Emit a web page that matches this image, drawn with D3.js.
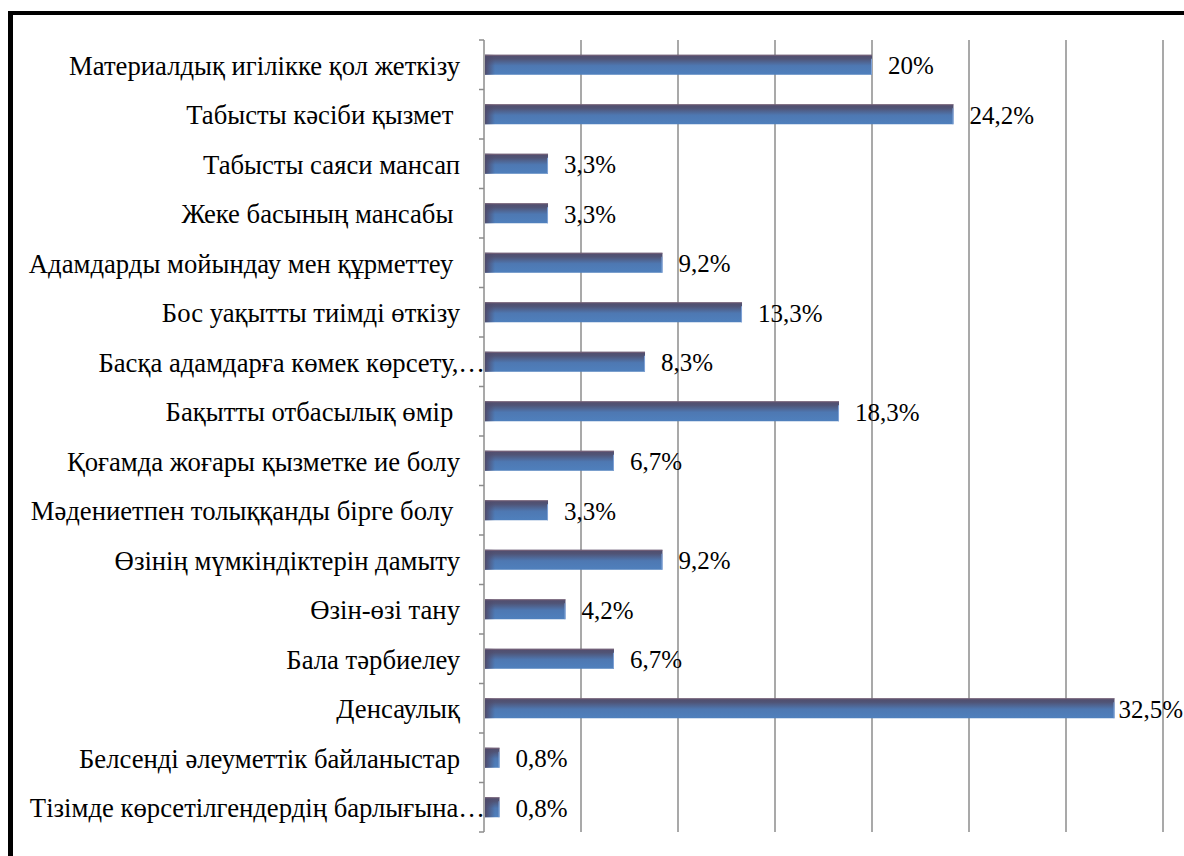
<!DOCTYPE html>
<html>
<head>
<meta charset="utf-8">
<script src="https://cdn.jsdelivr.net/npm/d3@7"></script>
<style>
  html, body { margin: 0; padding: 0; background: #fff; }
  svg { display: block; }
</style>
</head>
<body>
<svg id="chart" width="1184" height="856"></svg>
<script>
const categories = [
  "Материалдық игілікке қол жеткізу",
  "Табысты кәсіби қызмет ",
  "Табысты саяси мансап",
  "Жеке басының мансабы ",
  "Адамдарды мойындау мен құрметтеу ",
  "Бос уақытты тиімді өткізу",
  "Басқа адамдарға көмек көрсету,…",
  "Бақытты отбасылық өмір ",
  "Қоғамда жоғары қызметке ие болу",
  "Мәдениетпен толыққанды бірге болу ",
  "Өзінің мүмкіндіктерін дамыту",
  "Өзін-өзі тану",
  "Бала тәрбиелеу",
  "Денсаулық",
  "Белсенді әлеуметтік байланыстар",
  "Тізімде көрсетілгендердің барлығына…"
];
const values = [20, 24.2, 3.3, 3.3, 9.2, 13.3, 8.3, 18.3, 6.7, 3.3, 9.2, 4.2, 6.7, 32.5, 0.8, 0.8];
const xTicks = [0, 5, 10, 15, 20, 25, 30, 35];

const FONT = "'Liberation Serif', 'Times New Roman', serif";
const svg = d3.select("#chart");
const W = 1184, H = 856;
const plot = { left: 484, right: 1163, top: 40, bottom: 832 };

const x = d3.scaleLinear().domain([0, 35]).range([plot.left, plot.right]);
const y = d3.scaleBand().domain(categories).range([plot.top, plot.bottom]).paddingInner(0.596).paddingOuter(0.298);

const defs = svg.append("defs");
const vg = defs.append("linearGradient").attr("id", "barV").attr("x1", 0).attr("y1", 0).attr("x2", 0).attr("y2", 1);
vg.append("stop").attr("offset", "0%").attr("stop-color", "#524c6c");
vg.append("stop").attr("offset", "20%").attr("stop-color", "#505476");
vg.append("stop").attr("offset", "55%").attr("stop-color", "#4e78b2");
vg.append("stop").attr("offset", "100%").attr("stop-color", "#4f80bd");
const hg = defs.append("linearGradient").attr("id", "barH").attr("x1", 0).attr("y1", 0).attr("x2", 1).attr("y2", 0);
hg.append("stop").attr("offset", "0%").attr("stop-color", "#4e4a6a").attr("stop-opacity", 1);
hg.append("stop").attr("offset", "100%").attr("stop-color", "#4e4a6a").attr("stop-opacity", 0);

// frame
svg.append("rect").attr("x", 8).attr("y", 11).attr("width", W - 8).attr("height", 4).attr("fill", "#000");
svg.append("rect").attr("x", 8).attr("y", 11).attr("width", 5).attr("height", H - 11).attr("fill", "#000");

// gridlines
svg.append("g").selectAll("line").data(xTicks.filter(d => d > 0)).join("line")
  .attr("x1", d => x(d)).attr("x2", d => x(d))
  .attr("y1", plot.top).attr("y2", plot.bottom)
  .attr("stroke", "#8c8c8c").attr("stroke-width", 1.5);

// category axis
const yAxis = d3.axisLeft(y).tickSize(0).tickFormat("");
const ga = svg.append("g").attr("transform", `translate(${plot.left},0)`).call(yAxis);
ga.select(".domain").attr("stroke", "#8c8c8c").attr("stroke-width", 1.5).attr("d", `M0,${plot.top}V${plot.bottom}`);
const bounds = d3.range(categories.length + 1).map(i => plot.top + i * y.step());
svg.append("g").selectAll("line").data(bounds).join("line")
  .attr("x1", plot.left - 5).attr("x2", plot.left)
  .attr("y1", d => d).attr("y2", d => d)
  .attr("stroke", "#8c8c8c").attr("stroke-width", 1.5);

// bars
const bars = svg.append("g").selectAll("g").data(categories).join("g");
bars.append("rect")
  .attr("x", x(0) + 1).attr("y", d => y(d))
  .attr("width", (d, i) => x(values[i]) - x(0) - 1).attr("height", y.bandwidth())
  .attr("fill", "url(#barV)");
bars.append("rect")
  .attr("x", x(0) + 1).attr("y", d => y(d))
  .attr("width", (d, i) => Math.min(10, x(values[i]) - x(0) - 1)).attr("height", y.bandwidth())
  .attr("fill", "url(#barH)");
bars.append("line")
  .attr("x1", x(0) + 1).attr("x2", (d, i) => x(values[i]))
  .attr("y1", d => y(d) + 0.5).attr("y2", d => y(d) + 0.5)
  .attr("stroke", "#8a6f80").attr("stroke-width", 1).attr("opacity", 0.7);
bars.append("line")
  .attr("x1", (d, i) => x(values[i]) - 0.5).attr("x2", (d, i) => x(values[i]) - 0.5)
  .attr("y1", d => y(d) + 4).attr("y2", d => y(d) + y.bandwidth())
  .attr("stroke", "#7fa2d6").attr("stroke-width", 1);

// category labels
svg.append("g").selectAll("text").data(categories).join("text")
  .attr("x", d => d.endsWith("…") ? plot.left + 1 : 460)
  .attr("y", d => y(d) + y.bandwidth() / 2 + 10)
  .attr("text-anchor", "end")
  .attr("font-family", FONT)
  .attr("fill", "#000")
  .style("white-space", "pre")
  .attr("font-size", 26.7)
  .text(d => d);

// value labels
const fmt = v => String(v).replace(".", ",") + "%";
svg.append("g").selectAll("text").data(categories).join("text")
  .attr("y", d => y(d) + y.bandwidth() / 2 + 9.5)
  .attr("font-family", FONT)
  .attr("fill", "#000")
  .attr("font-size", 25)
  .text((d, i) => fmt(values[i]))
  .attr("x", function (d, i) {
    const w = this.getComputedTextLength();
    return Math.min(x(values[i]) + 16, W - 1 - w);
  });
</script>
</body>
</html>
